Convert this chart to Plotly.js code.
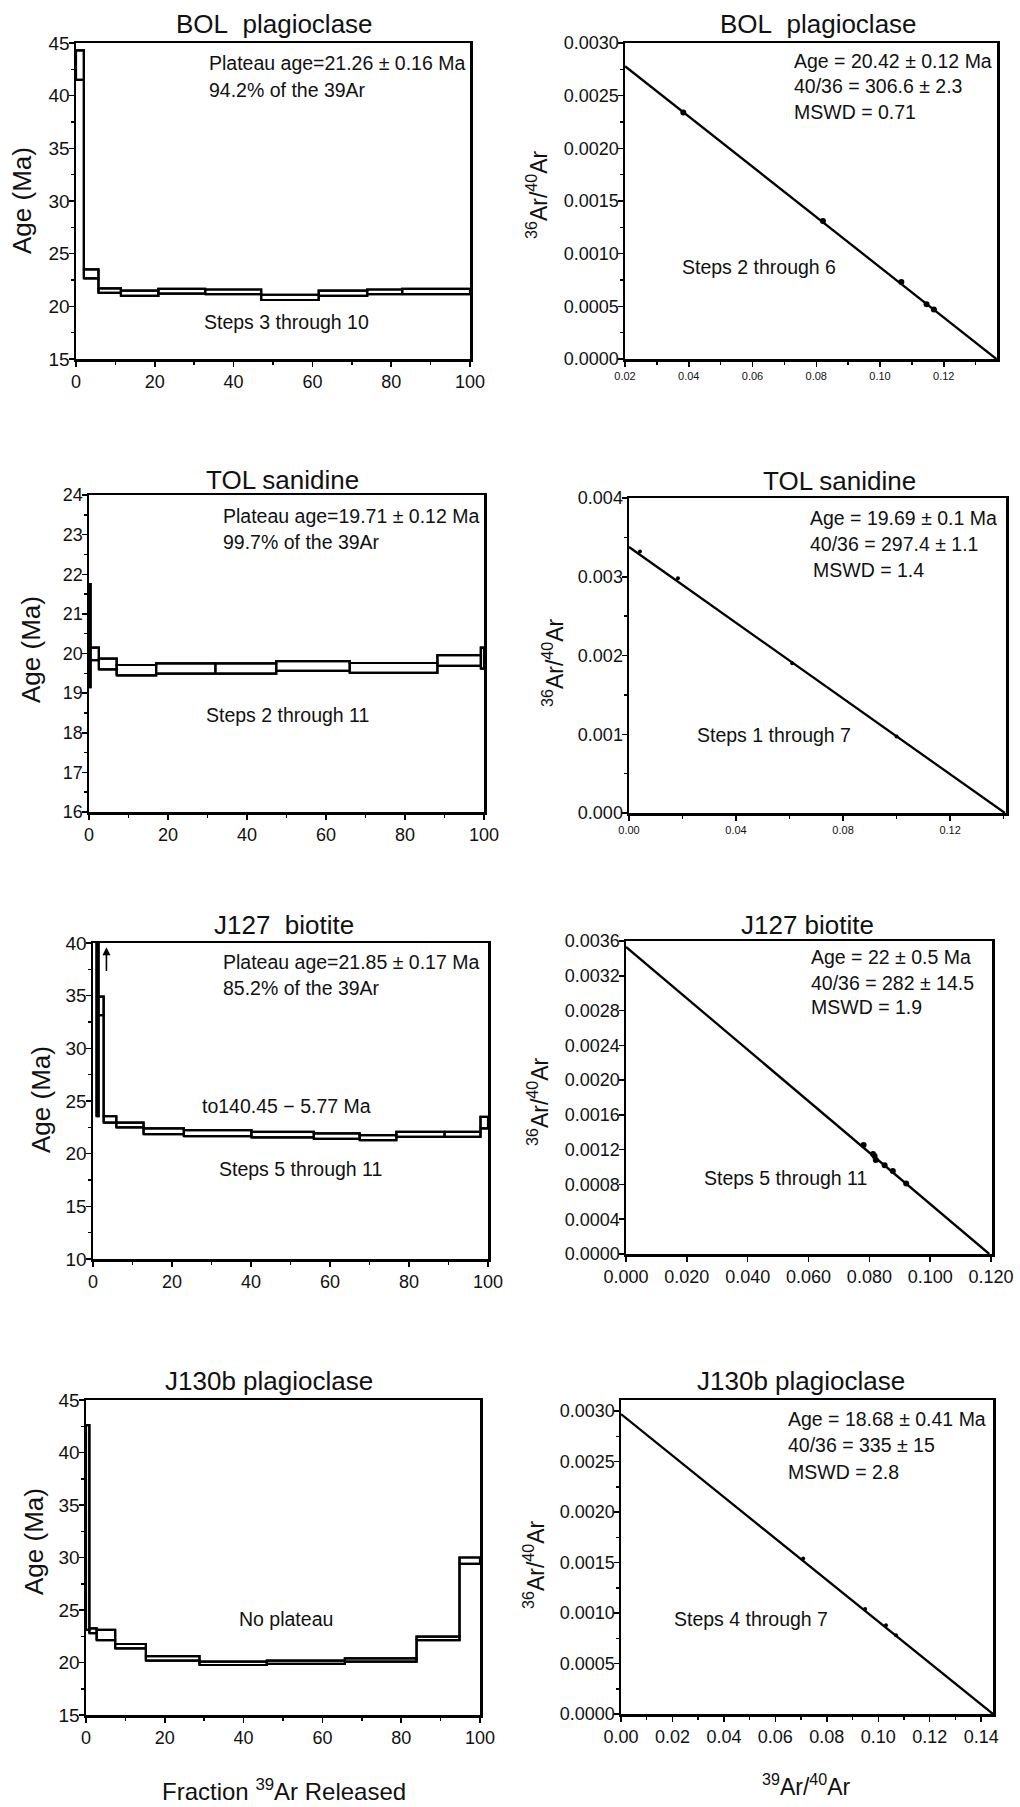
<!DOCTYPE html>
<html>
<head>
<meta charset="utf-8">
<script src="https://cdn.plot.ly/plotly-3.0.1.min.js"></script>
<style>html,body{margin:0;padding:0;background:#fff;}#chart{width:1020px;height:1807px;}</style>
</head>
<body>
<div id="chart"></div>
<script>
// ---------------- DATA ----------------
// Age spectra: cumulative % 39Ar released (step boundaries), and age envelope (Ma)
const bolCum = [0, 2.0, 5.7, 11.4, 20.9, 32.8, 47.0, 61.6, 73.9, 82.8, 100];
const bolHi  = [44.3, 23.5, 21.7, 21.5, 21.65, 21.6, 21.1, 21.5, 21.6, 21.65];
const bolLo  = [41.5, 22.65, 21.27, 21.0, 21.2, 21.15, 20.6, 21.0, 21.15, 21.15];

const tolCum = [0, 0.4, 2.5, 7.0, 17.0, 32.0, 47.4, 66.0, 88.2, 99.2, 100];
const tolHi  = [21.75, 20.15, 19.87, 19.71, 19.75, 19.75, 19.81, 19.76, 19.96, 20.15];
const tolLo  = [19.15, 19.83, 19.6, 19.45, 19.49, 19.49, 19.56, 19.51, 19.69, 19.62];

const j127Cum = [0, 0.9, 1.4, 2.7, 5.9, 12.8, 23.0, 40.1, 55.9, 67.5, 76.8, 89.0, 98.1, 100];
const j127Hi  = [146.22, 146.22, 34.9, 23.55, 22.95, 22.4, 22.23, 22.07, 21.92, 21.76, 22.07, 22.07, 23.5];
const j127Lo  = [134.68, 23.55, 33.15, 22.95, 22.5, 21.85, 21.66, 21.54, 21.41, 21.28, 21.6, 21.6, 22.4];

const j130Cum = [0, 0.85, 2.7, 7.4, 15.2, 28.8, 45.9, 65.7, 83.9, 94.8, 100];
const j130Hi  = [42.6, 23.25, 23.1, 21.76, 20.6, 20.08, 20.17, 20.4, 22.46, 30.0];
const j130Lo  = [23.1, 22.8, 22.14, 21.35, 20.17, 19.76, 19.86, 20.08, 22.14, 29.4];

// Inverse isochrons: 39Ar/40Ar (x) vs 36Ar/40Ar (y)
const bolIsoX = [0.0383, 0.0821, 0.1067, 0.1146, 0.1169];
const bolIsoY = [0.00234, 0.00131, 0.00073, 0.00052, 0.00047];
const bolLineX = [0.02, 0.1365];
const bolLineY = [0.00278, 0];

const tolIsoX = [0.0041, 0.0183, 0.0610, 0.1000];
const tolIsoY = [0.00332, 0.00298, 0.00190, 0.00097];
const tolLineX = [0, 0.1405];
const tolLineY = [0.003377, 0];

const j127IsoX = [0.0781, 0.0812, 0.0817, 0.0821, 0.0850, 0.0877, 0.0921];
const j127IsoY = [0.001253, 0.00115, 0.001126, 0.00108, 0.00102, 0.000954, 0.000812];
const j127LineX = [0, 0.1194];
const j127LineY = [0.003532, 0];

const j130IsoX = [0.0708, 0.0949, 0.1030, 0.1069];
const j130IsoY = [0.00154, 0.00104, 0.00088, 0.00078];
const j130LineX = [0, 0.1446];
const j130LineY = [0.00297, 0];

// Tick values / labels
const specXTicks = [0, 20, 40, 60, 80, 100];
const specXLabels = ['0', '20', '40', '60', '80', '100'];
const bolSpecYTicks = [15, 20, 25, 30, 35, 40, 45];
const bolSpecYLabels = ['15', '20', '25', '30', '35', '40', '45'];
const tolSpecYTicks = [16, 17, 18, 19, 20, 21, 22, 23, 24];
const tolSpecYLabels = ['16', '17', '18', '19', '20', '21', '22', '23', '24'];
const j127SpecYTicks = [10, 15, 20, 25, 30, 35, 40];
const j127SpecYLabels = ['10', '15', '20', '25', '30', '35', '40'];
const j130SpecYTicks = [15, 20, 25, 30, 35, 40, 45];
const j130SpecYLabels = ['15', '20', '25', '30', '35', '40', '45'];

const bolIsoXTicks = [0.02, 0.04, 0.06, 0.08, 0.10, 0.12];
const bolIsoXLabels = ['0.02', '0.04', '0.06', '0.08', '0.10', '0.12'];
const bolIsoYTicks = [0, 0.0005, 0.0010, 0.0015, 0.0020, 0.0025, 0.0030];
const bolIsoYLabels = ['0.0000', '0.0005', '0.0010', '0.0015', '0.0020', '0.0025', '0.0030'];
const tolIsoXTicks = [0, 0.04, 0.08, 0.12];
const tolIsoXLabels = ['0.00', '0.04', '0.08', '0.12'];
const tolIsoYTicks = [0, 0.001, 0.002, 0.003, 0.004];
const tolIsoYLabels = ['0.000', '0.001', '0.002', '0.003', '0.004'];
const j127IsoXTicks = [0, 0.02, 0.04, 0.06, 0.08, 0.10, 0.12];
const j127IsoXLabels = ['0.000', '0.020', '0.040', '0.060', '0.080', '0.100', '0.120'];
const j127IsoYTicks = [0, 0.0004, 0.0008, 0.0012, 0.0016, 0.0020, 0.0024, 0.0028, 0.0032, 0.0036];
const j127IsoYLabels = ['0.0000', '0.0004', '0.0008', '0.0012', '0.0016', '0.0020', '0.0024', '0.0028', '0.0032', '0.0036'];
const j130IsoXTicks = [0, 0.02, 0.04, 0.06, 0.08, 0.10, 0.12, 0.14];
const j130IsoXLabels = ['0.00', '0.02', '0.04', '0.06', '0.08', '0.10', '0.12', '0.14'];
const j130IsoYTicks = [0, 0.0005, 0.0010, 0.0015, 0.0020, 0.0025, 0.0030];
const j130IsoYLabels = ['0.0000', '0.0005', '0.0010', '0.0015', '0.0020', '0.0025', '0.0030'];

// ---------------- LAYOUT HELPERS ----------------
const W = 1020, H = 1807;
const FONT = '"Liberation Sans", Arial, sans-serif';
const px = v => v / W;
const py = v => 1 - v / H;

const boxes = [
  {l: 76,  r: 470, t: 43,   b: 359},
  {l: 625, r: 997, t: 43,   b: 359},
  {l: 89,  r: 484, t: 495,  b: 812},
  {l: 629, r: 1006, t: 498, b: 813},
  {l: 93,  r: 488, t: 943,  b: 1259},
  {l: 626, r: 992, t: 941,  b: 1254},
  {l: 86,  r: 480, t: 1400, b: 1715},
  {l: 621, r: 993, t: 1400, b: 1714}
];

function axis(isX, i, range, tickvals, ticktext, minor, fsize) {
  const b = boxes[i];
  const o = {
    domain: isX ? [px(b.l), px(b.r)] : [py(b.b), py(b.t)],
    range: range,
    anchor: (isX ? 'y' : 'x') + (i === 0 ? '' : (i + 1)),
    tickmode: 'array', tickvals: tickvals, ticktext: ticktext,
    ticks: 'outside', ticklen: 5, tickwidth: 1.5, tickcolor: '#000',
    showline: true, linewidth: 2.5, linecolor: '#000', mirror: true,
    showgrid: false, zeroline: false, fixedrange: true,
    tickfont: {family: FONT, size: fsize, color: '#111'}
  };
  if (!isX) o.ticklabelstandoff = -5;
  if (minor) o.minor = {dtick: minor, ticks: 'outside', ticklen: 3, tickwidth: 1.5, tickcolor: '#000', showgrid: false};
  return o;
}

function sfx(i) { return i === 0 ? '' : String(i + 1); }

// each heating step as a rectangle (age +/- error over its 39Ar fraction)
function stepTrace(cum, hi, lo, i) {
  const x = [], y = [];
  for (let k = 0; k < hi.length; k++) {
    x.push(cum[k], cum[k + 1], cum[k + 1], cum[k], cum[k], null);
    y.push(lo[k], lo[k], hi[k], hi[k], lo[k], null);
  }
  return {type: 'scatter', mode: 'lines', x: x, y: y, xaxis: 'x' + sfx(i), yaxis: 'y' + sfx(i),
          line: {color: '#000', width: 2.2}, hoverinfo: 'skip', showlegend: false};
}
// connected upper / lower envelopes of the spectrum
function envTrace(cum, vals, i) {
  return {type: 'scatter', mode: 'lines', x: cum.slice(), y: vals.concat([vals[vals.length - 1]]),
          xaxis: 'x' + sfx(i), yaxis: 'y' + sfx(i), line: {color: '#000', width: 2.2, shape: 'hv'},
          hoverinfo: 'skip', showlegend: false};
}
function spectrum(cum, hi, lo, i) {
  return [stepTrace(cum, hi, lo, i), envTrace(cum, hi, i), envTrace(cum, lo, i)];
}
function isoTraces(lx, ly, dx, dy, i, msize) {
  return [
    {type: 'scatter', mode: 'lines', x: lx, y: ly, xaxis: 'x' + sfx(i), yaxis: 'y' + sfx(i),
     line: {color: '#000', width: 2.3}, showlegend: false, hoverinfo: 'skip'},
    {type: 'scatter', mode: 'markers', x: dx, y: dy, xaxis: 'x' + sfx(i), yaxis: 'y' + sfx(i),
     marker: {color: '#000', size: msize, symbol: 'circle'}, showlegend: false}
  ];
}

const traces = [
  ...spectrum(bolCum, bolHi, bolLo, 0),
  ...isoTraces(bolLineX, bolLineY, bolIsoX, bolIsoY, 1, 6),
  ...spectrum(tolCum, tolHi, tolLo, 2),
  ...isoTraces(tolLineX, tolLineY, tolIsoX, tolIsoY, 3, 4),
  ...spectrum(j127Cum, j127Hi, j127Lo, 4),
  ...isoTraces(j127LineX, j127LineY, j127IsoX, j127IsoY, 5, 6),
  ...spectrum(j130Cum, j130Hi, j130Lo, 6),
  ...isoTraces(j130LineX, j130LineY, j130IsoX, j130IsoY, 7, 4)
];

function txt(text, x, y, size, opts) {
  return Object.assign({text: text, x: px(x), y: py(y), xref: 'paper', yref: 'paper',
    xanchor: 'left', yanchor: 'middle', showarrow: false,
    font: {family: FONT, size: size, color: '#111'}}, opts || {});
}
const C = {xanchor: 'center'};
const R = {xanchor: 'center', textangle: -90};
const NB = '\u00a0';

const annotations = [
  // titles
  txt('BOL' + NB + ' plagioclase', 274, 24, 26, C),
  txt('BOL' + NB + ' plagioclase', 818, 24, 26, C),
  txt('TOL sanidine', 282, 480, 26, C),
  txt('TOL sanidine', 839, 481, 26, C),
  txt('J127' + NB + ' biotite', 284, 925, 26, C),
  txt('J127 biotite', 807, 925, 26, C),
  txt('J130b plagioclase', 269, 1381, 26, C),
  txt('J130b plagioclase', 801, 1381, 26, C),
  // y titles
  txt('Age (Ma)', 22, 201, 26, R),
  txt('<sup>36</sup>Ar/<sup>40</sup>Ar', 537, 195, 23, R),
  txt('Age (Ma)', 31, 650, 26, R),
  txt('<sup>36</sup>Ar/<sup>40</sup>Ar', 553, 663, 23, R),
  txt('Age (Ma)', 41, 1100, 26, R),
  txt('<sup>36</sup>Ar/<sup>40</sup>Ar', 538, 1102, 23, R),
  txt('Age (Ma)', 34, 1542, 26, R),
  txt('<sup>36</sup>Ar/<sup>40</sup>Ar', 534, 1565, 23, R),
  // x titles
  txt('Fraction <sup>39</sup>Ar' + NB + 'Released', 284, 1790, 24, C),
  txt('<sup>39</sup>Ar/<sup>40</sup>Ar', 806, 1785, 23, C),
  // panel texts
  txt('Plateau age=21.26 ± 0.16 Ma', 207, 63, 19.5),
  txt('94.2% of the 39Ar', 207, 90, 19.5),
  txt('Steps 3 through 10', 202, 322, 19.5),
  txt('Age = 20.42 ± 0.12 Ma', 792, 61, 19.5),
  txt('40/36 = 306.6 ± 2.3', 792, 86, 19.5),
  txt('MSWD = 0.71', 792, 112, 19.5),
  txt('Steps 2 through 6', 680, 267, 19.5),
  txt('Plateau age=19.71 ± 0.12 Ma', 221, 516, 19.5),
  txt('99.7% of the 39Ar', 221, 542, 19.5),
  txt('Steps 2 through 11', 204, 715, 19.5),
  txt('Age = 19.69 ± 0.1 Ma', 808, 518, 19.5),
  txt('40/36 = 297.4 ± 1.1', 808, 544, 19.5),
  txt('MSWD = 1.4', 811, 570, 19.5),
  txt('Steps 1 through 7', 695, 735, 19.5),
  txt('Plateau age=21.85 ± 0.17 Ma', 221, 962, 19.5),
  txt('85.2% of the 39Ar', 221, 988, 19.5),
  txt('to140.45 − 5.77 Ma', 200, 1106, 19.5),
  txt('Steps 5 through 11', 217, 1169, 19.5),
  txt('Age = 22 ± 0.5 Ma', 809, 957, 19.5),
  txt('40/36 = 282 ± 14.5', 809, 983, 19.5),
  txt('MSWD = 1.9', 809, 1007, 19.5),
  txt('Steps 5 through 11', 702, 1178, 19.5),
  txt('No plateau', 237, 1619, 19.5),
  txt('Age = 18.68 ± 0.41 Ma', 786, 1419, 19.5),
  txt('40/36 = 335 ± 15', 786, 1445, 19.5),
  txt('MSWD = 2.8', 786, 1472, 19.5),
  txt('Steps 4 through 7', 672, 1619, 19.5),
  // off-scale arrow for J127 step 1
  {x: 3.4, y: 39.6, ax: 3.4, ay: 37.2, xref: 'x5', yref: 'y5', axref: 'x5', ayref: 'y5',
   showarrow: true, arrowhead: 2, arrowsize: 1, arrowwidth: 1.6, arrowcolor: '#000', text: ''}
];

const layout = {
  width: W, height: H, margin: {l: 0, r: 0, t: 0, b: 0},
  paper_bgcolor: '#fff', plot_bgcolor: '#fff', showlegend: false,
  font: {family: FONT, color: '#111'},
  xaxis:  axis(true, 0, [0, 100], specXTicks, specXLabels, 10, 18),
  yaxis:  axis(false, 0, [15, 45], bolSpecYTicks, bolSpecYLabels, 2.5, 19),
  xaxis2: axis(true, 1, [0.02, 0.1367], bolIsoXTicks, bolIsoXLabels, 0.01, 11),
  yaxis2: axis(false, 1, [0, 0.003], bolIsoYTicks, bolIsoYLabels, 0.00025, 18),
  xaxis3: axis(true, 2, [0, 100], specXTicks, specXLabels, 10, 18),
  yaxis3: axis(false, 2, [16, 24], tolSpecYTicks, tolSpecYLabels, 0.5, 18),
  xaxis4: axis(true, 3, [0, 0.1409], tolIsoXTicks, tolIsoXLabels, 0.02, 11),
  yaxis4: axis(false, 3, [0, 0.004], tolIsoYTicks, tolIsoYLabels, 0.0005, 18),
  xaxis5: axis(true, 4, [0, 100], specXTicks, specXLabels, 10, 18),
  yaxis5: axis(false, 4, [10, 40], j127SpecYTicks, j127SpecYLabels, 2.5, 19),
  xaxis6: axis(true, 5, [0, 0.1203], j127IsoXTicks, j127IsoXLabels, null, 18),
  yaxis6: axis(false, 5, [0, 0.0036], j127IsoYTicks, j127IsoYLabels, null, 18),
  xaxis7: axis(true, 6, [0, 100], specXTicks, specXLabels, 10, 18),
  yaxis7: axis(false, 6, [15, 45], j130SpecYTicks, j130SpecYLabels, 2.5, 19),
  xaxis8: axis(true, 7, [0, 0.1446], j130IsoXTicks, j130IsoXLabels, 0.01, 18),
  yaxis8: axis(false, 7, [0, 0.00311], j130IsoYTicks, j130IsoYLabels, 0.00025, 18),
  annotations: annotations
};

Plotly.newPlot('chart', traces, layout, {staticPlot: true, displayModeBar: false});
</script>
</body>
</html>
